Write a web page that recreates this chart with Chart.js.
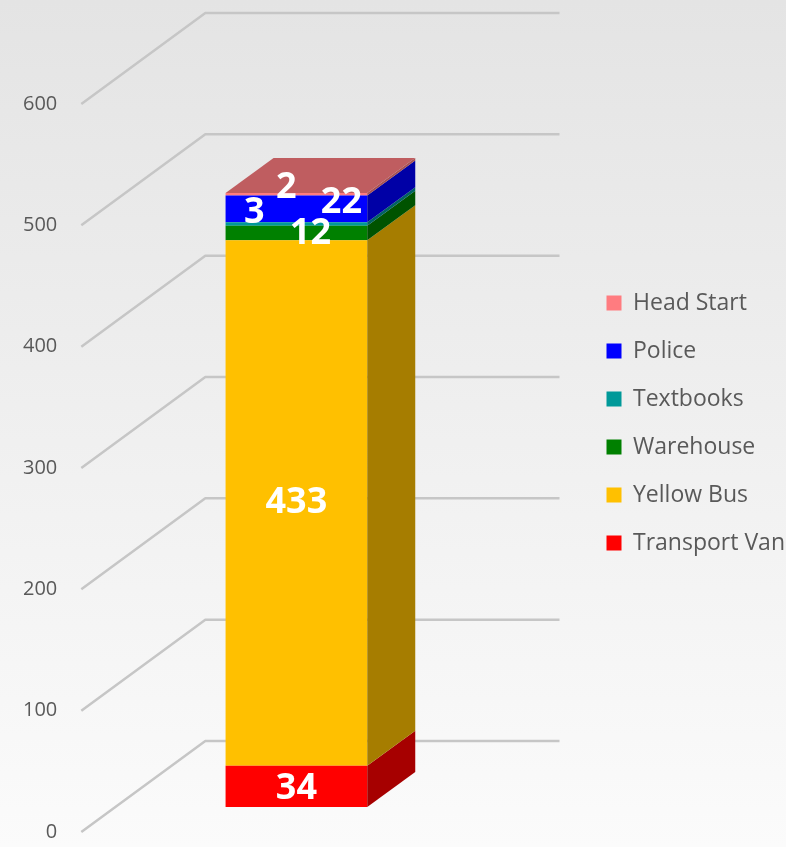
<!DOCTYPE html>
<html>
<head>
<meta charset="utf-8">
<script src="https://cdn.jsdelivr.net/npm/chart.js@4"></script>
<style>
  html, body { margin: 0; padding: 0; }
  body { width: 786px; height: 847px; background: linear-gradient(#e4e4e4, #fbfbfb); overflow: hidden; }
  canvas { display: block; }
</style>
</head>
<body>
<canvas id="fleetChart" width="786" height="847"></canvas>
<script>
// data
const categories = ["Fleet"];
const seriesNames = ["Transport Van", "Yellow Bus", "Warehouse", "Textbooks", "Police", "Head Start"];
const seriesValues = [34, 433, 12, 3, 22, 2];
const tickValues = [0, 100, 200, 300, 400, 500, 600];

// look
const frontColors = ["#FF0000", "#FFC000", "#008000", "#009999", "#0000FF", "#FF7C80"];
const labelNudge = [[0, 2], [0, 0], [14, 1], [-42, -11], [45, -6], [-10, -7]];
const FLOOR = { x: 124, y: -91 };      // depth of the fake 3d floor / walls
const BAR_OFFSET = { x: 38, y: -25 };  // column front face pushed back into the box
const BAR_DEPTH = { x: 48, y: -35 };   // column thickness

function shade(hex, k) {
	const n = parseInt(hex.slice(1), 16);
	const r = Math.round(((n >> 16) & 255) * k);
	const g = Math.round(((n >> 8) & 255) * k);
	const b = Math.round((n & 255) * k);
	return "rgb(" + r + "," + g + "," + b + ")";
}

const fake3d = {
	id: "fake3d",
	beforeDatasetsDraw(chart) {
		const { ctx, chartArea, scales } = chart;
		ctx.save();
		ctx.strokeStyle = "#c6c6c6";
		ctx.lineWidth = 2.5;
		ctx.lineJoin = "round";
		tickValues.forEach(function (v) {
			const y = scales.y.getPixelForValue(v);
			ctx.beginPath();
			ctx.moveTo(chartArea.left, y);
			ctx.lineTo(chartArea.left + FLOOR.x, y + FLOOR.y);
			ctx.lineTo(chartArea.right + FLOOR.x, y + FLOOR.y);
			ctx.stroke();
		});
		ctx.restore();
		ctx.save();
		ctx.translate(BAR_OFFSET.x, BAR_OFFSET.y);
	},
	afterDatasetsDraw(chart) {
		const ctx = chart.ctx;
		const dx = BAR_DEPTH.x;
		const dy = BAR_DEPTH.y;
		const last = chart.data.datasets.length - 1;
		chart.data.datasets.forEach(function (ds, i) {
			const bar = chart.getDatasetMeta(i).data[0];
			const left = bar.x - bar.width / 2;
			const right = bar.x + bar.width / 2;
			ctx.fillStyle = shade(ds.backgroundColor, 0.65);
			ctx.beginPath();
			ctx.moveTo(right, bar.base);
			ctx.lineTo(right + dx, bar.base + dy);
			ctx.lineTo(right + dx, bar.y + dy);
			ctx.lineTo(right, bar.y);
			ctx.closePath();
			ctx.fill();
			if (i === last) {
				ctx.fillStyle = shade(ds.backgroundColor, 0.75);
				ctx.beginPath();
				ctx.moveTo(left, bar.y);
				ctx.lineTo(left + dx, bar.y + dy);
				ctx.lineTo(right + dx, bar.y + dy);
				ctx.lineTo(right, bar.y);
				ctx.closePath();
				ctx.fill();
			}
		});
		// value labels
		ctx.fillStyle = "#ffffff";
		ctx.font = "bold 36px 'Open Sans'";
		ctx.textAlign = "center";
		ctx.textBaseline = "middle";
		chart.data.datasets.forEach(function (ds, i) {
			const bar = chart.getDatasetMeta(i).data[0];
			const nudge = labelNudge[i];
			ctx.fillText(String(ds.data[0]), bar.x + nudge[0], (bar.y + bar.base) / 2 + nudge[1]);
		});
		ctx.restore();
	}
};

const datasets = seriesNames.map(function (name, i) {
	return {
		label: name,
		data: [seriesValues[i]],
		backgroundColor: frontColors[i],
		borderWidth: 0,
		barPercentage: 0.4,
		categoryPercentage: 1
	};
});

// invisible axes only used to reserve room around the plot
const spacer = function (size, pos) {
	return {
		position: pos,
		ticks: { display: false },
		grid: { display: false, drawTicks: false },
		border: { display: false },
		afterFit: function (scale) {
			if (pos === "top" || pos === "bottom") scale.height = size;
			else scale.width = size;
		}
	};
};

new Chart(document.getElementById("fleetChart"), {
	type: "bar",
	data: { labels: categories, datasets: datasets },
	options: {
		responsive: false,
		animation: false,
		layout: { padding: { top: 2, bottom: 3, left: -1, right: -9 } },
		scales: {
			x: { display: false, stacked: true },
			xTop: spacer(102, "top"),
			xBottom: spacer(12, "bottom"),
			y: {
				stacked: true,
				min: 0,
				max: 600,
				ticks: { stepSize: 100, padding: 24, color: "#595959", font: { family: "Open Sans", size: 20 } },
				grid: { display: false, drawTicks: false },
				border: { display: false },
				afterFit: function (scale) {
					// tick padding would otherwise be added above and below the plot too
					scale.paddingTop = 12;
					scale.paddingBottom = 12;
				}
			},
			yRight: spacer(146, "right")
		},
		plugins: {
			legend: {
				position: "right",
				reverse: true,
				maxWidth: 400,
				labels: {
					boxWidth: 15,
					boxHeight: 15,
					padding: 25,
					color: "#595959",
					font: { family: "Open Sans", size: 23 }
				}
			},
			tooltip: { enabled: false }
		}
	},
	plugins: [fake3d]
});
</script>
</body>
</html>
